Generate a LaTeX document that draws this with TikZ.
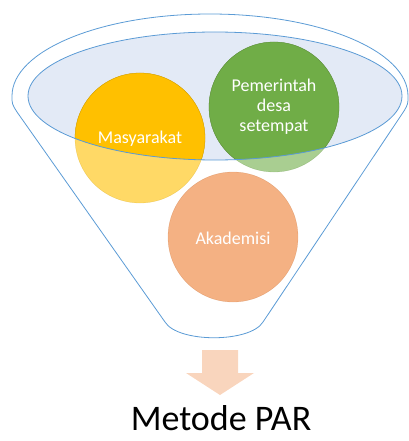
\documentclass[tikz,border=0pt]{standalone}
\usepackage{fontspec}
\setmainfont{Carlito}
\definecolor{garis}{HTML}{5B9BD5}
\definecolor{mangkuk}{HTML}{DAE3F3}
\definecolor{kuning}{HTML}{FFC000}
\definecolor{hijau}{HTML}{70AD47}
\definecolor{jingga}{HTML}{ED7D31}
\definecolor{panah}{HTML}{F8CBAD}
\tikzset{
  funnel/.style={draw=garis, line width=0.8pt},
  bowl/.style={fill=mangkuk, fill opacity=.75},
  rim/.style={draw=garis, line width=0.8pt},
  isi/.style={text=white, align=center, font=\fontsize{18}{20}\selectfont},
}
\begin{document}
\begin{tikzpicture}[x=1pt, y=-1pt, line join=round, line cap=round]
	\useasboundingbox (0,0) rectangle (408,441);
	\def\r{65pt}
	% corong
	\draw[funnel] (17,112) .. controls (12,104) .. (12,96) arc[start angle=180, end angle=0, x radius=198pt, y radius=82pt] .. controls (408,104) .. (404,111) -- (263,322) .. controls (250,343) and (178,343) .. (165,322) -- cycle;
	\fill[bowl] (215,96) ellipse[x radius=187pt, y radius=64pt];
	\foreach \x/\y/\c in {140/138/kuning, 274/107/hijau, 233/237/jingga}
		\filldraw[fill=\c, draw=\c!80!black, line width=.3pt, fill opacity=.6, draw opacity=.4] (\x,\y) circle (\r);
	\begin{scope}
		\clip (215,96) ellipse[x radius=187pt, y radius=64pt];
		\foreach \x/\y/\c in {140/138/kuning, 274/107/hijau}
			\filldraw[fill=\c, draw=\c!80!black, line width=.3pt] (\x,\y) circle (\r);
	\end{scope}
	\draw[rim] (215,96) ellipse[x radius=187pt, y radius=64pt];
	\node[isi] (masy) at (140,139) {Masyarakat};
	\node[isi] (pemdes) at (274,107) {Pemerintah\\desa\\setempat};
	\node[isi] (akad) at (233,238) {Akademisi};
	% panah ke bawah
	\fill[panah, fill opacity=.8] (202,350) -- (238,350) -- (238,373) -- (254,373) -- (220,395) -- (186,373) -- (202,373) -- cycle;
	\node[anchor=base, inner sep=0pt, font=\fontsize{36}{38}\selectfont] (par) at (221,430) {Metode PAR};
\end{tikzpicture}
\end{document}
